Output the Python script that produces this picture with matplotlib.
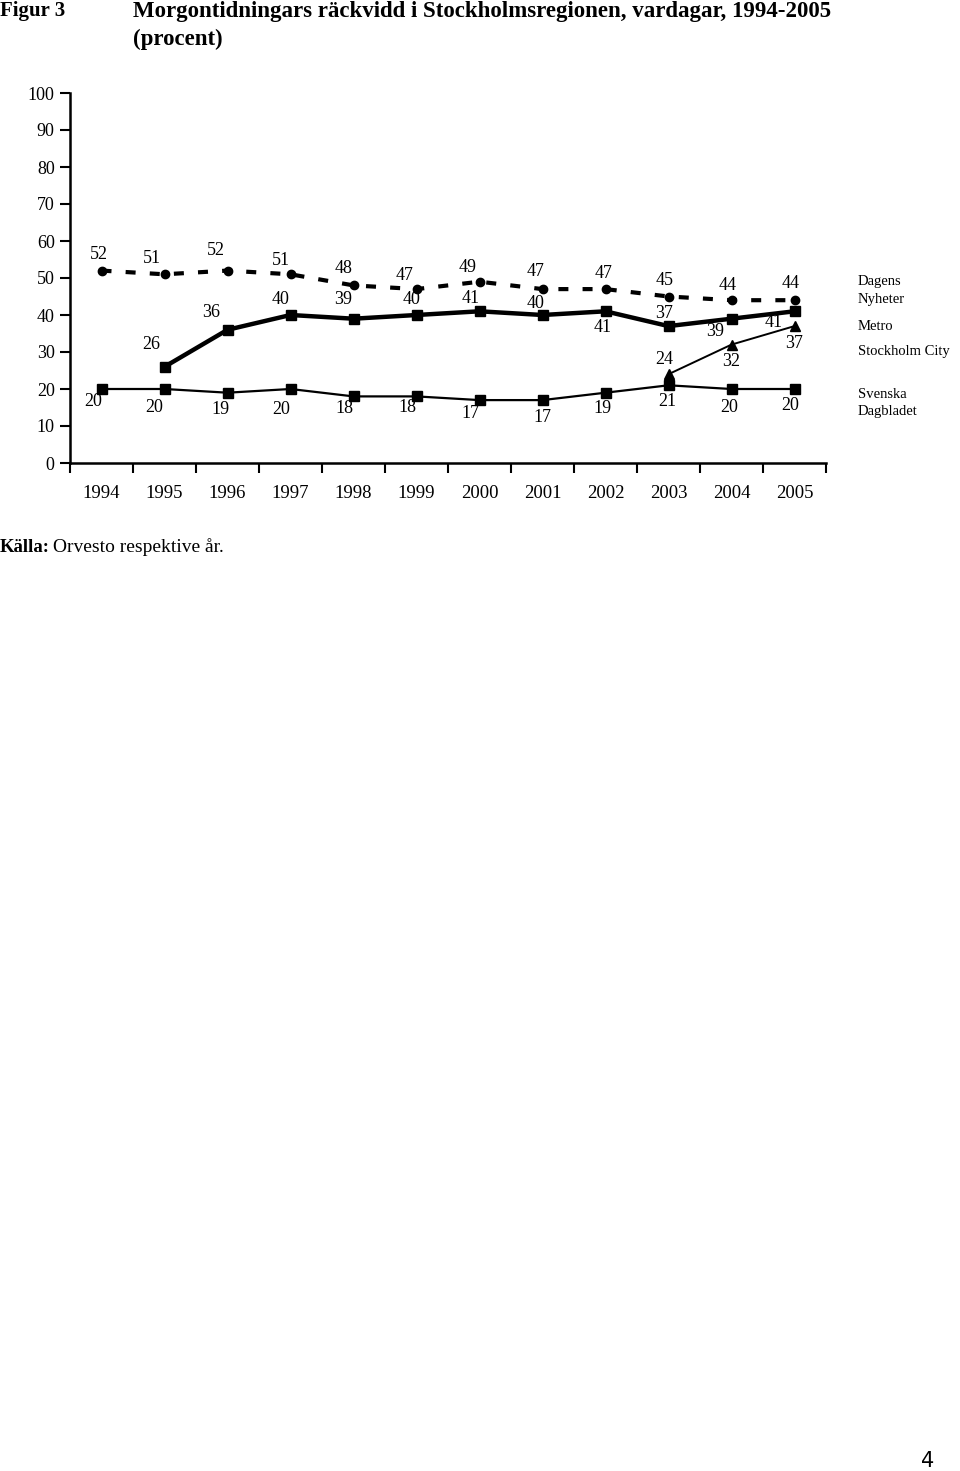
import matplotlib
matplotlib.use('Agg')
import matplotlib.pyplot as plt
import numpy as np

plt.rcParams['font.family'] = ['Liberation Serif', 'DejaVu Serif']

# data
years = ['1994', '1995', '1996', '1997', '1998', '1999',
         '2000', '2001', '2002', '2003', '2004', '2005']
dn = [52, 51, 52, 51, 48, 47, 49, 47, 47, 45, 44, 44]
metro = [None, 26, 36, 40, 39, 40, 41, 40, 41, 37, 39, 41]
city = [None] * 9 + [24, 32, 37]
svd = [20, 20, 19, 20, 18, 18, 17, 17, 19, 21, 20, 20]

# label offsets in pixels (dx, dy)
dn_off = [(-3, 16), (-13, 16), (-12, 20), (-10, 14), (-10, 17), (-12, 14),
          (-12, 14), (-7, 18), (-2, 16), (-4, 16), (-4, 15), (-4, 17)]
metro_off = [None, (-13, 22), (-16, 17), (-10, 16), (-10, 19), (-5, 16),
             (-9, 13), (-7, 11), (-3, -16), (-4, 13), (-16, -13), (-21, -11)]
city_off = [None] * 9 + [(-4, 15), (0, -17), (0, -17)]
svd_off = [(-8, -13), (-10, -19), (-7, -17), (-9, -21), (-9, -12), (-9, -11),
           (-9, -13), (0, -17), (-3, -16), (-1, -16), (-2, -19), (-4, -16)]

fig = plt.figure(figsize=(9.6, 14.71), dpi=100)
ax = fig.add_axes([70 / 960, 1 - 463 / 1471, 756 / 960, 370 / 1471])

x = np.arange(len(years))


def series(vals):
    return np.array([np.nan if v is None else v for v in vals], dtype=float)


ax.plot(x, series(dn), color='black', lw=3, ls=(0, (2.4, 3.4)),
        marker='o', ms=6, clip_on=False)
ax.plot(x, series(metro), color='black', lw=3.2, marker='s', ms=6.5)
ax.plot(x, series(city), color='black', lw=1.4, marker='^', ms=6.5)
ax.plot(x, series(svd), color='black', lw=1.6, marker='s', ms=6.5)

for vals, offs in [(dn, dn_off), (metro, metro_off), (city, city_off), (svd, svd_off)]:
    for i, (v, o) in enumerate(zip(vals, offs)):
        if v is None:
            continue
        ax.annotate(str(v), (x[i], v), xytext=o, textcoords='offset pixels',
                    ha='center', va='center', fontsize=13)

ax.set_xlim(-0.5, len(years) - 0.5)
ax.set_ylim(0, 100)
ax.set_yticks(range(0, 101, 10))
ax.set_xticks(np.arange(-0.5, len(years), 1))
ax.set_xticklabels([])
ax.set_xticks(x, minor=True)
ax.set_xticklabels(years, minor=True, fontsize=13.5)
ax.tick_params(axis='x', which='minor', length=0, pad=16)
ax.tick_params(axis='x', which='major', length=7, width=1.5, direction='out')
ax.tick_params(axis='y', length=7, width=1.5, direction='out', labelsize=13, pad=4)
for s in ['top', 'right']:
    ax.spines[s].set_visible(False)
for s in ['left', 'bottom']:
    ax.spines[s].set_linewidth(1.8)

# legend-like text at the right
legend_items = [('Dagens', 282), ('Nyheter', 300), ('Metro', 326),
                ('Stockholm City', 351), ('Svenska', 394), ('Dagbladet', 412)]
for txt, py in legend_items:
    fig.text(858 / 960, 1 - py / 1471, txt, fontsize=10.5, ha='left', va='center')

fig.text(0 / 960, 1 - 11 / 1471, 'Figur 3', fontsize=15, fontweight='bold',
         ha='left', va='center')
fig.text(133 / 960, 1 - 11 / 1471,
         'Morgontidningars räckvidd i Stockholmsregionen, vardagar, 1994-2005',
         fontsize=16.5, fontweight='bold', ha='left', va='center')
fig.text(133 / 960, 1 - 39 / 1471, '(procent)', fontsize=16.5, fontweight='bold',
         ha='left', va='center')

fig.text(0, 1 - 547 / 1471, 'Källa:', fontsize=13.5, fontweight='bold',
         ha='left', va='center')
fig.text(53 / 960, 1 - 547 / 1471, 'Orvesto respektive år.', fontsize=14,
         ha='left', va='center')

fig.text(928 / 960, 1 - 1461 / 1471, '4', fontsize=15, family='DejaVu Sans',
         ha='center', va='center')

fig.savefig('out.png', dpi=100)
